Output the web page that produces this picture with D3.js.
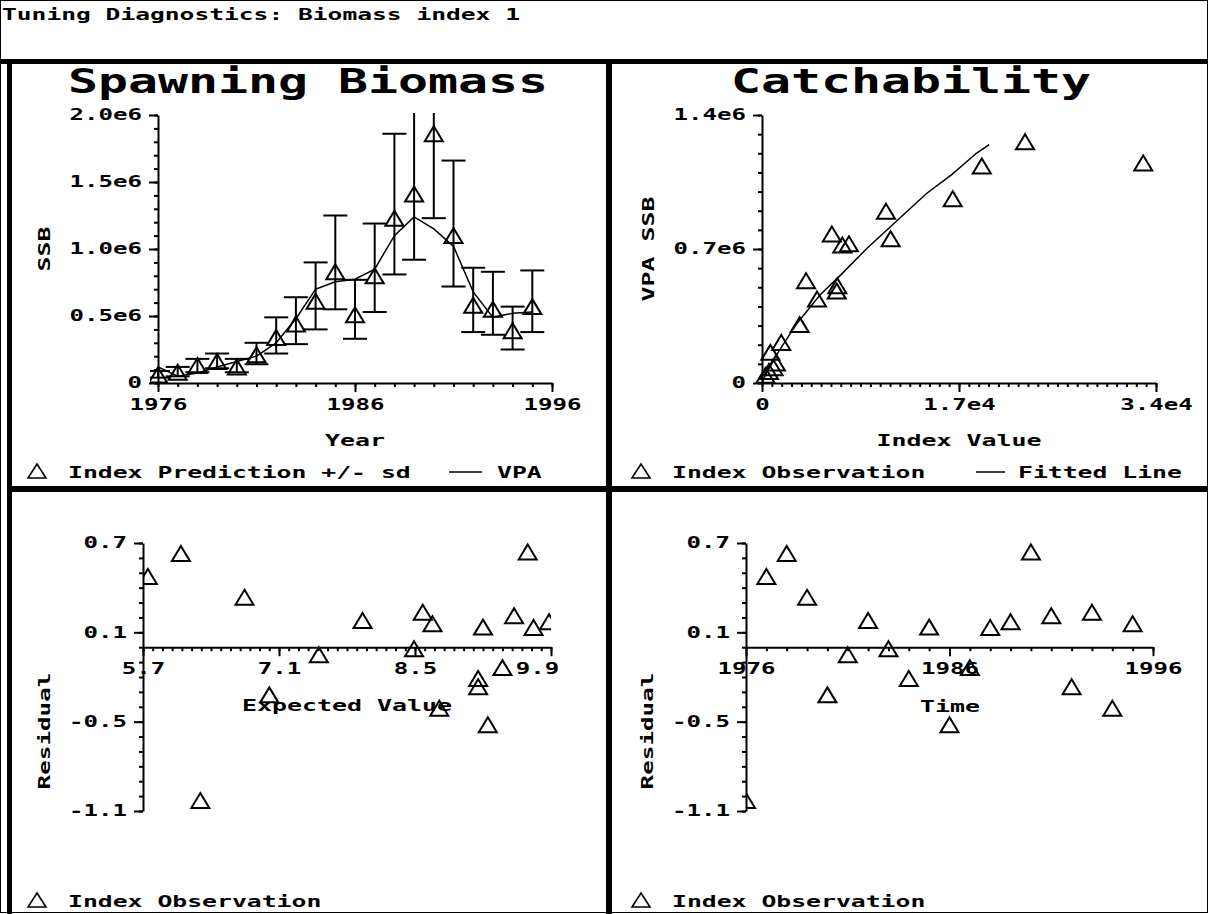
<!DOCTYPE html>
<html>
<head>
<meta charset="utf-8">
<script src="https://cdn.jsdelivr.net/npm/d3@7"></script>
<style>
body { margin: 0; background: #fff; }
svg { display: block; }
text { font-family: "DejaVu Sans Mono", monospace; font-weight: bold; fill: #000; }
</style>
</head>
<body>
<script>
//Years of the series
var years = [1976, 1977, 1978, 1979, 1980, 1981, 1982, 1983, 1984, 1985,
             1986, 1987, 1988, 1989, 1990, 1991, 1992, 1993, 1994, 1995];

//Spawning biomass panel (values in millions)
var ssbPred = [0.06, 0.08, 0.13, 0.16, 0.12, 0.21, 0.34, 0.44, 0.61, 0.83,
               0.51, 0.80, 1.23, 1.41, 1.86, 1.10, 0.58, 0.55, 0.39, 0.57];
var ssbLow  = [0.04, 0.05, 0.08, 0.11, 0.08, 0.14, 0.22, 0.29, 0.40, 0.55,
               0.33, 0.53, 0.81, 0.92, 1.23, 0.72, 0.38, 0.36, 0.25, 0.38];
var ssbHigh = [0.09, 0.12, 0.18, 0.22, 0.18, 0.30, 0.49, 0.64, 0.90, 1.25,
               0.77, 1.19, 1.86, 2.17, 2.80, 1.66, 0.86, 0.83, 0.57, 0.84];
var vpaSSB  = [0.12, 0.05, 0.075, 0.12, 0.16, 0.20, 0.30, 0.48, 0.70, 0.755,
               0.775, 0.85, 1.10, 1.24, 1.15, 1.02, 0.68, 0.49, 0.52, 0.53];

//Catchability panel (index in thousands, SSB in millions)
var catchIndex = [0.3, 0.6, 0.72, 1.0, 1.2, 1.66, 3.25, 3.8, 4.75, 6.03,
                  6.45, 6.5, 6.93, 7.5, 10.7, 11.1, 16.46, 18.97, 22.7, 32.9];
var catchSSB   = [0.04, 0.06, 0.16, 0.08, 0.105, 0.212, 0.305, 0.534, 0.439, 0.778,
                  0.48, 0.508, 0.721, 0.727, 0.897, 0.754, 0.963, 1.134, 1.26, 1.149];
var fitIndex = [0, 0.5, 1.5, 3.0, 5.0, 6.8, 9.0, 11.5, 14.2, 16.4, 18.5, 19.6];
var fitSSB   = [0, 0.07, 0.17, 0.31, 0.46, 0.565, 0.70, 0.84, 0.99, 1.09, 1.20, 1.245];

//Residual panels
var expectedValue = [6.29, 5.75, 6.09, 6.745, 7.0, 7.51, 7.96, 8.49, 9.15, 9.2,
                     9.25, 9.40, 9.72, 9.88, 9.66, 9.52, 9.15, 8.58, 8.75, 8.68];
var residuals = [-1.03, 0.475, 0.63, 0.335, -0.32, -0.05, 0.18, -0.01, -0.21, 0.135,
                 -0.52, -0.137, 0.133, 0.171, 0.64, 0.211, -0.265, 0.235, -0.41, 0.158];

//Tick labels
var ssbTicks = [0, 0.5e6, 1.0e6, 1.5e6, 2.0e6];
var ssbTickLabels = ["0", "0.5e6", "1.0e6", "1.5e6", "2.0e6"];
var yearTicks = [1976, 1986, 1996];
var yearTickLabels = ["1976", "1986", "1996"];
var catchYTicks = [0, 0.7e6, 1.4e6];
var catchYTickLabels = ["0", "0.7e6", "1.4e6"];
var catchXTicks = [0, 1.7e4, 3.4e4];
var catchXTickLabels = ["0", "1.7e4", "3.4e4"];
var resTicks = [-1.1, -0.5, 0.1, 0.7];
var resTickLabels = ["-1.1", "-0.5", "0.1", "0.7"];
var evTicks = [5.7, 7.1, 8.5, 9.9];
var evTickLabels = ["5.7", "7.1", "8.5", "9.9"];

var width = 1208,
    height = 914;

var svg = d3.select("body")
            .append("svg")
            .attr("width", width)
            .attr("height", height);

var defs = svg.append("defs");

//Text drawn stretched to a fixed cell width, like the old bitmap font
function addText(g, str, x, y, size, charW, anchor, rotate) {
  var t = g.append("text")
           .attr("x", x)
           .attr("y", y)
           .attr("font-size", size)
           .attr("text-anchor", anchor || "start")
           .attr("textLength", str.length * charW)
           .attr("lengthAdjust", "spacingAndGlyphs")
           .text(str);
  if (rotate) t.attr("transform", "rotate(" + rotate + "," + x + "," + y + ")");
  return t;
}

//Axis with minor ticks and labelled major ticks
function drawAxis(g, axisFn, scale, translate, minorVals, majorVals, majorLabels) {
  var minor = axisFn(scale).tickValues(minorVals).tickSize(4).tickSizeOuter(0).tickFormat("");
  var major = axisFn(scale).tickValues(majorVals).tickSize(9).tickSizeOuter(0).tickPadding(7)
                .tickFormat(function(d, i) { return majorLabels[i]; });
  var a = g.append("g").attr("transform", translate).call(minor);
  var b = g.append("g").attr("transform", translate).call(major);
  b.select(".domain").remove();
  [a, b].forEach(function(s) {
    s.attr("font-size", 15);
    s.selectAll("path, line").attr("stroke", "#000").attr("stroke-width", 2);
  });
  b.selectAll("text")
   .attr("textLength", function() { return this.textContent.length * 14.5; })
   .attr("lengthAdjust", "spacingAndGlyphs");
  return b;
}

function clipRect(id, x, y, w, h) {
  defs.append("clipPath").attr("id", id)
      .append("rect").attr("x", x).attr("y", y).attr("width", w).attr("height", h);
  return "url(#" + id + ")";
}

var triPath = "M0,-7.5L9,7.5L-9,7.5Z";

function drawTriangles(g, pts, xs, ys) {
  g.selectAll(null)
   .data(pts)
   .enter()
   .append("path")
   .attr("d", triPath)
   .attr("transform", function(d) { return "translate(" + xs(d.x) + "," + ys(d.y) + ")"; })
   .attr("fill", "none")
   .attr("stroke", "#000")
   .attr("stroke-width", 2);
}

function legendTriangle(g, x, y) {
  g.append("path")
   .attr("d", "M0,-7L9,7L-9,7Z")
   .attr("transform", "translate(" + x + "," + y + ")")
   .attr("fill", "none")
   .attr("stroke", "#000")
   .attr("stroke-width", 1.6);
}

//Frame
addText(svg, "Tuning Diagnostics: Biomass index 1", 2, 20, 15, 14.8, "start");
svg.append("rect").attr("x", 0.5).attr("y", 0.5).attr("width", width - 1).attr("height", height - 2)
   .attr("fill", "none").attr("stroke", "#000").attr("stroke-width", 1);
svg.append("rect").attr("x", 0).attr("y", 59).attr("width", width).attr("height", 5).attr("fill", "#000");
svg.append("rect").attr("x", 7).attr("y", 59).attr("width", 5).attr("height", height - 59).attr("fill", "#000");
svg.append("rect").attr("x", 606).attr("y", 59).attr("width", 6).attr("height", height - 59).attr("fill", "#000");
svg.append("rect").attr("x", 7).attr("y", 486).attr("width", width - 7).attr("height", 6).attr("fill", "#000");

// ---------- Spawning Biomass ----------
var g1 = svg.append("g");
var x1 = d3.scaleLinear().domain([1976, 1996]).range([158, 552]);
var y1 = d3.scaleLinear().domain([0, 2e6]).range([383, 115]);

addText(g1, "Spawning Biomass", 308, 93, 34, 30, "middle");
drawAxis(g1, d3.axisLeft, y1, "translate(158,0)",
         d3.range(0, 21).map(function(i) { return i * 1e5; }), ssbTicks, ssbTickLabels);
drawAxis(g1, d3.axisBottom, x1, "translate(0,383)", d3.range(1976, 1997), yearTicks, yearTickLabels);
addText(g1, "SSB", 50, 249, 15, 15, "middle", -90);
addText(g1, "Year", 355, 446, 15, 15, "middle");

var plot1 = g1.append("g").attr("clip-path", clipRect("clip1", 150, 113, 410, 276));
var ssbData = years.map(function(yr, i) {
  return {x: yr, y: ssbPred[i] * 1e6, lo: ssbLow[i] * 1e6, hi: ssbHigh[i] * 1e6};
});
var bars = plot1.selectAll(null).data(ssbData).enter().append("g")
                .attr("stroke", "#000").attr("stroke-width", 2);
bars.append("line")
    .attr("x1", function(d) { return x1(d.x); }).attr("x2", function(d) { return x1(d.x); })
    .attr("y1", function(d) { return y1(d.lo); }).attr("y2", function(d) { return y1(d.hi); });
bars.append("line")
    .attr("x1", function(d) { return x1(d.x) - 12; }).attr("x2", function(d) { return x1(d.x) + 12; })
    .attr("y1", function(d) { return y1(d.lo); }).attr("y2", function(d) { return y1(d.lo); });
bars.append("line")
    .attr("x1", function(d) { return x1(d.x) - 12; }).attr("x2", function(d) { return x1(d.x) + 12; })
    .attr("y1", function(d) { return y1(d.hi); }).attr("y2", function(d) { return y1(d.hi); });
drawTriangles(plot1, ssbData, x1, y1);

plot1.append("path")
     .datum(years.map(function(yr, i) { return [yr, vpaSSB[i] * 1e6]; }))
     .attr("fill", "none").attr("stroke", "#000").attr("stroke-width", 1.5)
     .attr("d", d3.line().x(function(d) { return x1(d[0]); }).y(function(d) { return y1(d[1]); }));

legendTriangle(g1, 37, 471);
addText(g1, "Index Prediction +/- sd", 68, 478, 16, 14.9, "start");
g1.append("line").attr("x1", 449).attr("x2", 482).attr("y1", 472).attr("y2", 472)
  .attr("stroke", "#000").attr("stroke-width", 1.5);
addText(g1, "VPA", 497, 478, 16, 14.9, "start");

// ---------- Catchability ----------
var g2 = svg.append("g");
var x2 = d3.scaleLinear().domain([0, 3.4e4]).range([762, 1156]);
var y2 = d3.scaleLinear().domain([0, 1.4e6]).range([383, 115]);

addText(g2, "Catchability", 911, 93, 34, 30, "middle");
drawAxis(g2, d3.axisLeft, y2, "translate(762,0)",
         d3.range(0, 15).map(function(i) { return i * 1e5; }), catchYTicks, catchYTickLabels);
drawAxis(g2, d3.axisBottom, x2, "translate(0,383)",
         d3.range(0, 41).map(function(i) { return i * 850; }), catchXTicks, catchXTickLabels);
addText(g2, "VPA SSB", 654, 249, 15, 15, "middle", -90);
addText(g2, "Index Value", 959, 446, 15, 15, "middle");

g2.append("path")
  .datum(fitIndex.map(function(v, i) { return [v * 1e3, fitSSB[i] * 1e6]; }))
  .attr("fill", "none").attr("stroke", "#000").attr("stroke-width", 1.5)
  .attr("d", d3.line().x(function(d) { return x2(d[0]); }).y(function(d) { return y2(d[1]); }));
drawTriangles(g2, catchIndex.map(function(v, i) { return {x: v * 1e3, y: catchSSB[i] * 1e6}; }), x2, y2);

legendTriangle(g2, 641, 471);
addText(g2, "Index Observation", 672, 478, 16, 14.9, "start");
g2.append("line").attr("x1", 976).attr("x2", 1005).attr("y1", 472).attr("y2", 472)
  .attr("stroke", "#000").attr("stroke-width", 1.5);
addText(g2, "Fitted Line", 1018, 478, 16, 14.9, "start");

// ---------- Residual vs expected value ----------
var g3 = svg.append("g");
var x3 = d3.scaleLinear().domain([5.7, 9.9]).range([143, 551]);
var y3 = d3.scaleLinear().domain([-1.1, 0.7]).range([811, 543]);

drawAxis(g3, d3.axisLeft, y3, "translate(143,0)",
         d3.range(0, 19).map(function(i) { return -1.1 + i * 0.1; }), resTicks, resTickLabels);
var evAxis = drawAxis(g3, d3.axisBottom, x3, "translate(0," + y3(0) + ")",
         d3.range(0, 43).map(function(i) { return 5.7 + i * 0.1; }), evTicks, evTickLabels);
//last label sits a little left of its tick in the original
evAxis.selectAll("text").filter(function(d) { return d === 9.9; }).attr("dx", -14);
addText(g3, "Residual", 50, 731, 15, 14.6, "middle", -90);
addText(g3, "Expected Value", 347, 711, 15, 15, "middle");

var plot3 = g3.append("g").attr("clip-path", clipRect("clip3", 143, 535, 408, 285));
drawTriangles(plot3, expectedValue.map(function(v, i) { return {x: v, y: residuals[i]}; }), x3, y3);

legendTriangle(g3, 37, 900);
addText(g3, "Index Observation", 68, 907, 16, 14.9, "start");

// ---------- Residual vs time ----------
var g4 = svg.append("g");
var x4 = d3.scaleLinear().domain([1976, 1996]).range([746, 1153]);
var y4 = d3.scaleLinear().domain([-1.1, 0.7]).range([811, 543]);

drawAxis(g4, d3.axisLeft, y4, "translate(746,0)",
         d3.range(0, 19).map(function(i) { return -1.1 + i * 0.1; }), resTicks, resTickLabels);
drawAxis(g4, d3.axisBottom, x4, "translate(0," + y4(0) + ")", d3.range(1976, 1997), yearTicks, yearTickLabels);
addText(g4, "Residual", 653, 731, 15, 14.6, "middle", -90);
addText(g4, "Time", 950, 712, 15, 15, "middle");

var plot4 = g4.append("g").attr("clip-path", clipRect("clip4", 746, 535, 410, 285));
drawTriangles(plot4, years.map(function(yr, i) { return {x: yr, y: residuals[i]}; }), x4, y4);

legendTriangle(g4, 641, 900);
addText(g4, "Index Observation", 672, 907, 16, 14.9, "start");
</script>
</body>
</html>
